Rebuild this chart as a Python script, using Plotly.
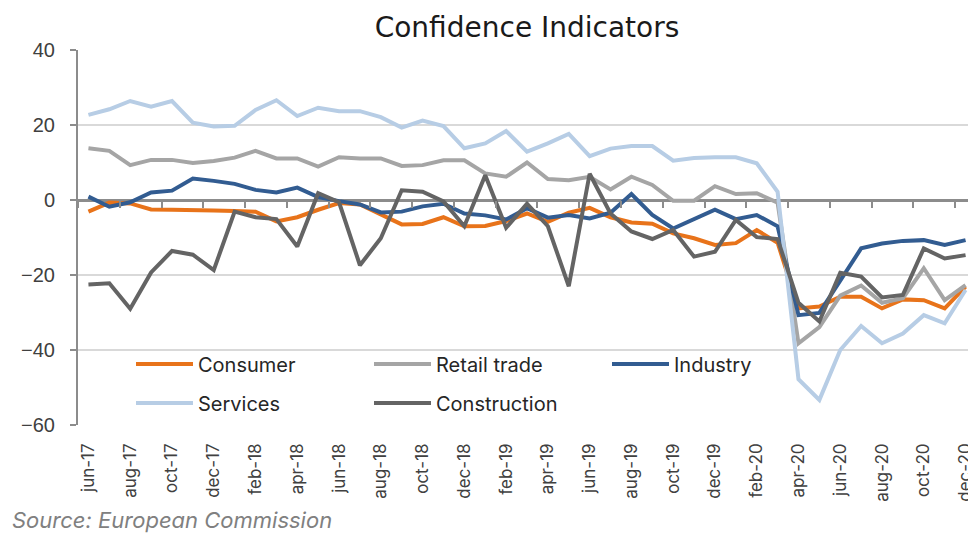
import plotly.graph_objects as go

months = (
    ["jun-17", "jul-17", "aug-17", "sep-17", "oct-17", "nov-17", "dec-17"]
    + [m + "-18" for m in ["jan", "feb", "mar", "apr", "may", "jun", "jul", "aug", "sep", "oct", "nov", "dec"]]
    + [m + "-19" for m in ["jan", "feb", "mar", "apr", "may", "jun", "jul", "aug", "sep", "oct", "nov", "dec"]]
    + [m + "-20" for m in ["jan", "feb", "mar", "apr", "may", "jun", "jul", "aug", "sep", "oct", "nov", "dec"]]
)

consumer = [-3.1, -0.7, -0.9, -2.5, -2.6, -2.6, -2.8,
            -2.9, -3.1, -5.7, -4.6, -2.6, -0.8, -1.2, -3.8, -6.5, -6.4, -4.6, -7.0,
            -6.9, -5.6, -3.6, -5.8, -3.4, -2.1, -4.6, -6.0, -6.3, -8.9, -10.2, -12.0,
            -11.5, -8.0, -11.4, -28.9, -28.4, -25.8, -25.8, -28.9, -26.5, -26.7, -28.9, -23.1]

retail_trade = [13.8, 13.1, 9.3, 10.7, 10.7, 9.9, 10.4,
                11.3, 13.1, 11.1, 11.1, 8.9, 11.4, 11.1, 11.1, 9.1, 9.3, 10.6, 10.6,
                7.1, 6.2, 10.0, 5.6, 5.3, 6.2, 2.8, 6.2, 4.0, -0.2, -0.2, 3.7,
                1.6, 1.8, -0.7, -38.2, -33.9, -25.5, -22.8, -27.4, -26.2, -18.2, -26.7, -22.7]

industry = [0.9, -1.8, -0.6, 2.0, 2.5, 5.7, 5.1,
            4.3, 2.7, 2.0, 3.3, 0.8, -0.3, -1.2, -3.3, -3.1, -1.7, -1.0, -3.6,
            -4.1, -5.2, -2.2, -4.7, -4.0, -4.9, -3.4, 1.6, -4.0, -7.6, -5.2, -2.6,
            -5.1, -4.0, -7.0, -30.7, -30.1, -21.4, -12.9, -11.6, -10.9, -10.7, -12.0, -10.7]

services = [22.7, 24.2, 26.4, 24.9, 26.4, 20.6, 19.6,
            19.8, 24.0, 26.6, 22.4, 24.6, 23.7, 23.7, 22.1, 19.3, 21.2, 19.7, 13.8,
            15.1, 18.4, 12.9, 15.1, 17.6, 11.7, 13.7, 14.4, 14.4, 10.5, 11.2, 11.4,
            11.4, 9.8, 2.2, -47.8, -53.3, -40.0, -33.6, -38.2, -35.6, -30.7, -32.9, -24.0]

construction = [-22.5, -22.2, -29.0, -19.3, -13.6, -14.6, -18.7,
                -3.1, -4.6, -5.1, -12.4, 1.8, -0.6, -17.4, -10.2, 2.6, 2.2, -0.4, -7.0,
                6.6, -7.4, -1.0, -7.0, -23.0, 7.0, -3.6, -8.4, -10.4, -8.0, -15.1, -13.8,
                -5.3, -9.9, -10.4, -27.4, -32.4, -19.4, -20.4, -26.0, -25.3, -12.9, -15.6, -14.7]

series = [
    ("Consumer", consumer, "#E8731A", "legend"),
    ("Retail trade", retail_trade, "#A5A5A5", "legend"),
    ("Industry", industry, "#325C91", "legend"),
    ("Services", services, "#B7CDE5", "legend2"),
    ("Construction", construction, "#646464", "legend2"),
]

FONT = "Inter"
# the page body adds an 8px margin, so the figure is drawn 8px smaller
OFF = 8
W, H = 976 - OFF, 533 - OFF
ML, MR, MT, MB = 78 - OFF, 0, 50 - OFF, 533 - 425
PW = W - ML - MR
PH = H - MT - MB


def px_x(page_x):
    return (page_x - OFF - ML) / PW


def px_y(page_y):
    return (MT + PH - (page_y - OFF)) / PH


fig = go.Figure()
# helper trace for the axis that carries tick marks on the zero line
fig.add_trace(go.Scatter(x=months, y=consumer, xaxis="x2", yaxis="y", mode="lines",
                         line=dict(width=0), opacity=0, showlegend=False, hoverinfo="skip"))
for name, vals, color, lg in series:
    fig.add_trace(go.Scatter(x=months, y=vals, name=name, mode="lines",
                             line=dict(color=color, width=4), legend=lg))

ymin, ymax = -60, 40
zero_pos = (0 - ymin) / (ymax - ymin)

legend_common = dict(
    orientation="h", xref="paper", yref="paper", xanchor="left", yanchor="middle",
    font=dict(family=FONT, size=20, color="#262626"),
    entrywidth=166, entrywidthmode="pixels", itemwidth=57,
    bgcolor="rgba(255,255,255,0)", traceorder="normal",
)

fig.update_layout(
    width=W, height=H,
    margin=dict(l=ML, r=MR, t=MT, b=MB, autoexpand=False),
    paper_bgcolor="white", plot_bgcolor="white",
    title=dict(text="Confidence Indicators", x=(ML + PW / 2) / W, xanchor="center",
               y=1, yanchor="top", yref="container", pad=dict(t=9, b=0),
               font=dict(family="DejaVu Sans", size=28, color="#1a1a1a")),
    xaxis=dict(type="category", categoryorder="array", categoryarray=months,
               range=[-0.5, len(months) - 0.5], dtick=2, tick0=0, automargin=False,
               tickangle=-90, ticks="", showline=False, showgrid=False, zeroline=False,
               tickfont=dict(family=FONT, size=17, color="#404040"), ticklabelstandoff=14),
    xaxis2=dict(type="category", categoryorder="array", categoryarray=months,
                overlaying="x", anchor="free", position=zero_pos, automargin=False,
                range=[-0.5, len(months) - 0.5], dtick=2, tick0=0, tickson="boundaries",
                ticks="outside", ticklen=7, tickwidth=2, tickcolor="#8c8c8c",
                showticklabels=False, showline=False, showgrid=False, zeroline=False,
                layer="above traces"),
    yaxis=dict(range=[ymin, ymax], dtick=20, tick0=0, automargin=False,
               showline=True, linecolor="#8c8c8c", linewidth=2,
               ticks="outside", ticklen=6, tickwidth=2, tickcolor="#8c8c8c",
               showgrid=True, gridcolor="#d9d9d9", gridwidth=2,
               zeroline=True, zerolinecolor="#8c8c8c", zerolinewidth=2.5,
               tickfont=dict(family="Liberation Sans", size=20, color="#404040"),
               ticklabelstandoff=11),
    legend=dict(x=px_x(131), y=px_y(364), **legend_common),
    legend2=dict(x=px_x(131), y=px_y(403), **legend_common),
    showlegend=True,
    annotations=[dict(text="<i>Source: European Commission</i>", xref="paper", yref="paper",
                      x=px_x(10), y=px_y(520), xanchor="left", yanchor="middle",
                      showarrow=False, font=dict(family=FONT, size=22, color="#808080"))],
)

fig.write_html("out.html")
